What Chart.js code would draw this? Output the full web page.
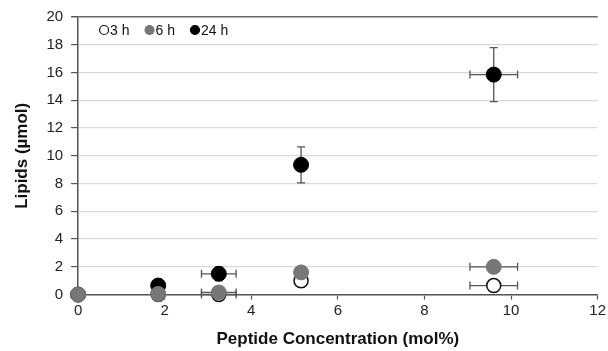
<!DOCTYPE html>
<html>
<head>
<meta charset="utf-8">
<script src="https://cdn.jsdelivr.net/npm/chart.js@4.4.1/dist/chart.umd.min.js"></script>
<style>
  html, body { margin: 0; padding: 0; background: #fff; }
  #wrap { width: 608px; height: 351px; }
</style>
</head>
<body>
<div id="wrap"><canvas id="chart" width="608" height="351"></canvas></div>
<script>
// peptide concentration (mol%) for each group
var conc = [0, 1.85, 3.25, 5.15, 9.6];
var concErr = [0, 0.05, 0.4, 0.08, 0.55];

// lipids (umol) per incubation time
var lipids3h = [0, 0, 0.0, 1.0, 0.65];
var lipids3hErr = [0, 0.1, 0.1, 0.45, 0.1];
var lipids6h = [0, 0.05, 0.15, 1.6, 2.0];
var lipids6hErr = [0, 0.1, 0.1, 0.3, 0.1];
var lipids24h = [0, 0.65, 1.5, 9.35, 15.85];
var lipids24hErr = [0, 0.45, 0.5, 1.3, 1.95];

var seriesLabels = ['3 h', '6 h', '24 h'];
var yTicks = [0, 2, 4, 6, 8, 10, 12, 14, 16, 18, 20];
var xTicks = [0, 2, 4, 6, 8, 10, 12];

var FONT = 'Liberation Sans, Arial, sans-serif';

function makePoints(ys, yErr) {
  var pts = [];
  for (var i = 0; i < conc.length; i++) {
    pts.push({x: conc[i], y: ys[i], xErr: concErr[i], yErr: yErr[i]});
  }
  return pts;
}

// draws x and y error bars through the chart's scales
var errorBars = {
  id: 'errorBars',
  beforeDatasetsDraw: function(chart) {
    var ctx = chart.ctx;
    var xs = chart.scales.x, ys = chart.scales.y;
    var cap = 4;
    ctx.save();
    ctx.strokeStyle = '#555';
    ctx.lineWidth = 1.3;
    chart.data.datasets.forEach(function(ds) {
      ds.data.forEach(function(p) {
        var px = xs.getPixelForValue(p.x), py = ys.getPixelForValue(p.y);
        ctx.beginPath();
        if (p.yErr > 0) {
          var top = ys.getPixelForValue(p.y + p.yErr);
          var bot = ys.getPixelForValue(p.y - p.yErr);
          ctx.moveTo(px, top); ctx.lineTo(px, bot);
          ctx.moveTo(px - cap, top); ctx.lineTo(px + cap, top);
          ctx.moveTo(px - cap, bot); ctx.lineTo(px + cap, bot);
        }
        if (p.xErr > 0) {
          var l = xs.getPixelForValue(p.x - p.xErr);
          var r = xs.getPixelForValue(p.x + p.xErr);
          ctx.moveTo(l, py); ctx.lineTo(r, py);
          ctx.moveTo(l, py - cap); ctx.lineTo(l, py + cap);
          ctx.moveTo(r, py - cap); ctx.lineTo(r, py + cap);
        }
        ctx.stroke();
      });
    });
    ctx.restore();
  }
};

// horizontal legend inside the top-left of the plot
var insideLegend = {
  id: 'insideLegend',
  afterDraw: function(chart) {
    var ctx = chart.ctx;
    var area = chart.chartArea;
    var x = area.left + 26, y = area.top + 13;
    ctx.save();
    ctx.font = '14px ' + FONT;
    ctx.textBaseline = 'middle';
    ctx.textAlign = 'left';
    seriesLabels.forEach(function(lbl, i) {
      var ds = chart.data.datasets.filter(function(d) { return d.label === lbl; })[0];
      ctx.beginPath();
      ctx.arc(x, y, 4.5, 0, Math.PI * 2);
      ctx.fillStyle = ds.backgroundColor;
      ctx.fill();
      ctx.lineWidth = 1.2;
      ctx.strokeStyle = ds.borderColor;
      ctx.stroke();
      ctx.fillStyle = '#111';
      ctx.fillText(lbl, x + 6, y + 1);
      x += 6 + ctx.measureText(lbl).width + 20;
    });
    ctx.restore();
  }
};

var ctx = document.getElementById('chart').getContext('2d');
var chart = new Chart(ctx, {
  type: 'scatter',
  data: {
    datasets: [
      {
        label: seriesLabels[1],
        data: makePoints(lipids6h, lipids6hErr),
        backgroundColor: '#777',
        borderColor: '#777',
        borderWidth: 1,
        pointRadius: 7.5
      },
      {
        label: seriesLabels[0],
        data: makePoints(lipids3h, lipids3hErr),
        backgroundColor: '#fff',
        borderColor: '#111',
        borderWidth: 1.5,
        pointRadius: 7
      },
      {
        label: seriesLabels[2],
        data: makePoints(lipids24h, lipids24hErr),
        backgroundColor: '#000',
        borderColor: '#000',
        borderWidth: 1,
        pointRadius: 7.5
      }
    ]
  },
  options: {
    responsive: false,
    animation: false,
    clip: false,
    layout: { padding: { left: 12, right: 2, top: 14, bottom: 1 } },
    plugins: {
      tooltip: { enabled: false },
      legend: { display: false }
    },
    scales: {
      x: {
        type: 'linear',
        min: 0,
        max: 12,
        afterBuildTicks: function(axis) { axis.ticks = xTicks.map(function(v) { return {value: v}; }); },
        border: { color: '#555', width: 1.5 },
        grid: { drawOnChartArea: false, color: '#555', tickLength: 5, tickWidth: 1.2 },
        ticks: { color: '#222', padding: 2, font: { family: FONT, size: 15 } },
        title: {
          display: true,
          text: 'Peptide Concentration (mol%)',
          color: '#111',
          padding: { top: 8, bottom: 0 },
          font: { family: FONT, size: 17, weight: 'bold' }
        }
      },
      y: {
        type: 'linear',
        min: 0,
        max: 20,
        afterBuildTicks: function(axis) { axis.ticks = yTicks.map(function(v) { return {value: v}; }); },
        border: { color: '#555', width: 1.5 },
        grid: {
          color: function(c) { return c.tick && c.tick.value === 20 ? '#666' : '#d9d9d9'; },
          lineWidth: function(c) { return c.tick && c.tick.value === 20 ? 1.5 : 1.2; },
          tickColor: '#555',
          tickLength: 7
        },
        ticks: { color: '#222', padding: 8, font: { family: FONT, size: 15 } },
        title: {
          display: true,
          text: 'Lipids (µmol)',
          color: '#111',
          padding: { top: 0, bottom: 6 },
          font: { family: FONT, size: 17, weight: 'bold' }
        }
      }
    }
  },
  plugins: [errorBars, insideLegend]
});
</script>
</body>
</html>
